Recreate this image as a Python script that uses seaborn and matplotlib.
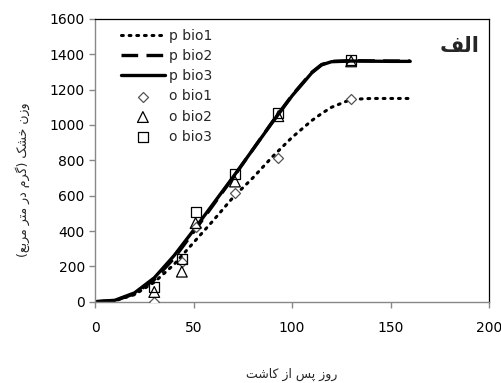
import matplotlib
matplotlib.use("Agg")
import matplotlib.pyplot as plt
import seaborn as sns
import pandas as pd

sns.set_theme(style="white")
plt.rcParams['font.family'] = ['DejaVu Sans']

# ---- data ----
pred_days = [0, 10, 20, 30, 40, 50, 60, 70, 80, 90, 100, 110, 115, 120, 130, 140, 150, 160]
p_bio1 = [0, 5, 40, 110, 210, 335, 460, 590, 700, 820, 930, 1025, 1065, 1100, 1145, 1150, 1150, 1150]
p_bio2 = [0, 6, 45, 125, 245, 395, 548, 702, 860, 1018, 1168, 1298, 1342, 1360, 1364, 1363, 1362, 1362]
p_bio3 = [0, 8, 50, 135, 260, 405, 555, 705, 860, 1015, 1165, 1295, 1340, 1358, 1362, 1361, 1360, 1360]

obs_days = [30, 44, 51, 71, 93, 130]
o_bio1 = [0, 225, 420, 615, 815, 1145]
o_bio2 = [55, 170, 445, 680, 1050, 1360]
o_bio3 = [85, 240, 505, 720, 1068, 1368]

x_ticks = [0, 50, 100, 150, 200]
y_ticks = [0, 200, 400, 600, 800, 1000, 1200, 1400, 1600]

# Persian labels (presentation forms, visual order)
panel_label = "\uFED2\uFEDF\uFE8D"                       # الف
x_label = "\uFE96\uFEB7\uFE8E\uFB90 \uFEAF\uFE8D \uFEB2\uFB58 \uFEAF\uFEED\uFEAD"  # روز پس از کاشت
y_label = ("(\uFECA\uFE91\uFEAE\uFEE3 \uFEAE\uFE98\uFEE3 \uFEAD\uFEA9 \uFEE1\uFEAE\uFB94) "
           "\uFB8F\uFEB8\uFEA7 \uFEE5\uFEAF\uFEED")      # وزن خشک (گرم در متر مربع)

fig = plt.figure(figsize=(5.01, 3.83), dpi=100)
ax = fig.add_axes([0.19, 0.2123, 0.786, 0.7382])

sns.lineplot(x=pred_days, y=p_bio1, ax=ax, color="black", lw=2.2,
             linestyle=(0, (0.6, 1.9)), dash_capstyle="round", label="p bio1")
sns.lineplot(x=pred_days, y=p_bio2, ax=ax, color="black", lw=2.4,
             linestyle=(0, (5, 2.5)), label="p bio2")
sns.lineplot(x=pred_days, y=p_bio3, ax=ax, color="black", lw=2.4,
             linestyle="-", label="p bio3")

sns.scatterplot(x=obs_days, y=o_bio1, ax=ax, marker="D", s=26, facecolor="white",
                edgecolor="#555555", linewidth=0.9, label="o bio1", zorder=5)
sns.scatterplot(x=obs_days, y=o_bio2, ax=ax, marker="^", s=60, facecolor="none",
                edgecolor="black", linewidth=0.9, label="o bio2", zorder=5)
sns.scatterplot(x=obs_days, y=o_bio3, ax=ax, marker="s", s=52, facecolor="none",
                edgecolor="black", linewidth=0.9, label="o bio3", zorder=5)

ax.set_xlim(0, 200)
ax.set_ylim(0, 1600)
ax.set_xticks(x_ticks)
ax.set_yticks(y_ticks)
ax.tick_params(axis="both", which="major", labelsize=10, length=4, width=1,
               color="#888888", direction="out", left=True, bottom=True)
ax.tick_params(axis="x", pad=10)
for t in ax.get_xticklabels() + ax.get_yticklabels():
    t.set_color("black")

for side in ["top", "right"]:
    ax.spines[side].set_color("black")
    ax.spines[side].set_linewidth(0.9)
for side in ["left", "bottom"]:
    ax.spines[side].set_color("#888888")
    ax.spines[side].set_linewidth(1.0)

ax.set_xlabel("")
ax.set_ylabel("")
fig.text(0.583, 0.022, x_label, ha="center", va="center", fontsize=9,
         family=["DejaVu Sans"])
fig.text(0.045, 0.53, y_label, ha="center", va="center", rotation=90,
         fontsize=9, family=["DejaVu Sans"])
ax.text(0.975, 0.905, panel_label, transform=ax.transAxes, ha="right",
        va="center", fontsize=15, fontweight="bold", family=["DejaVu Sans"])

leg = ax.legend(loc="upper left", bbox_to_anchor=(0.04, 1.0), frameon=False,
                fontsize=10, handlelength=3.2, handletextpad=0.3,
                labelspacing=0.45, borderaxespad=0.3)

fig.savefig("out.png", dpi=100)
